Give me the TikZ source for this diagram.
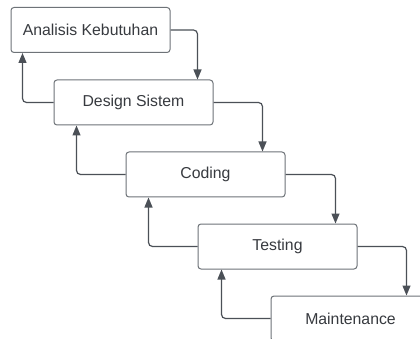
\documentclass[tikz,border=0pt]{standalone}
\usepackage{fontspec}
\setmainfont{Liberation Sans}
\usetikzlibrary{arrows.meta}
\definecolor{boxline}{HTML}{6E7378}
\definecolor{flowline}{HTML}{4B5057}
\definecolor{labeltext}{HTML}{373A3F}

\begin{document}
\begin{tikzpicture}[x = 1pt, y = -1pt,
    phase/.style = {draw = boxline, line width = 1pt, rounded corners = 3pt,
      fill = white, minimum width = 159pt, minimum height = 45pt,
      inner sep = 0pt, text = labeltext,
      font = \fontsize{15.8}{18}\selectfont},
    flow/.style = {draw = flowline, line width = 1.2pt, rounded corners = 4pt,
      -{Triangle[length = 10pt, width = 8pt]}}]
  % draws the page
  \clip (0,0) rectangle (420,339);
  \fill[white] (0,0) rectangle (420,339);

  % draws the phases
  \foreach \name/\x/\y/\txt in {analisis/90.5/30/Analisis Kebutuhan,
      design/133.5/102.5/Design Sistem, coding/205.5/174.5/Coding,
      testing/277.5/246.5/Testing, maintenance/350.5/318.5/Maintenance}
    \node[phase] (\name) at (\x,\y) {\txt};

  % draws the way down
  \foreach \a/\b/\s in {analisis/design/16, design/coding/23,
      coding/testing/22, testing/maintenance/24}
    \draw[flow] (\a.east) -| ([xshift = -\s pt]\b.north east);

  % draws the way back up
  \foreach \a/\b/\s in {analisis/design/12, design/coding/23,
      coding/testing/23, testing/maintenance/24}
    \draw[flow] (\b.west) -| ([xshift = \s pt]\a.south west);
\end{tikzpicture}
\end{document}
